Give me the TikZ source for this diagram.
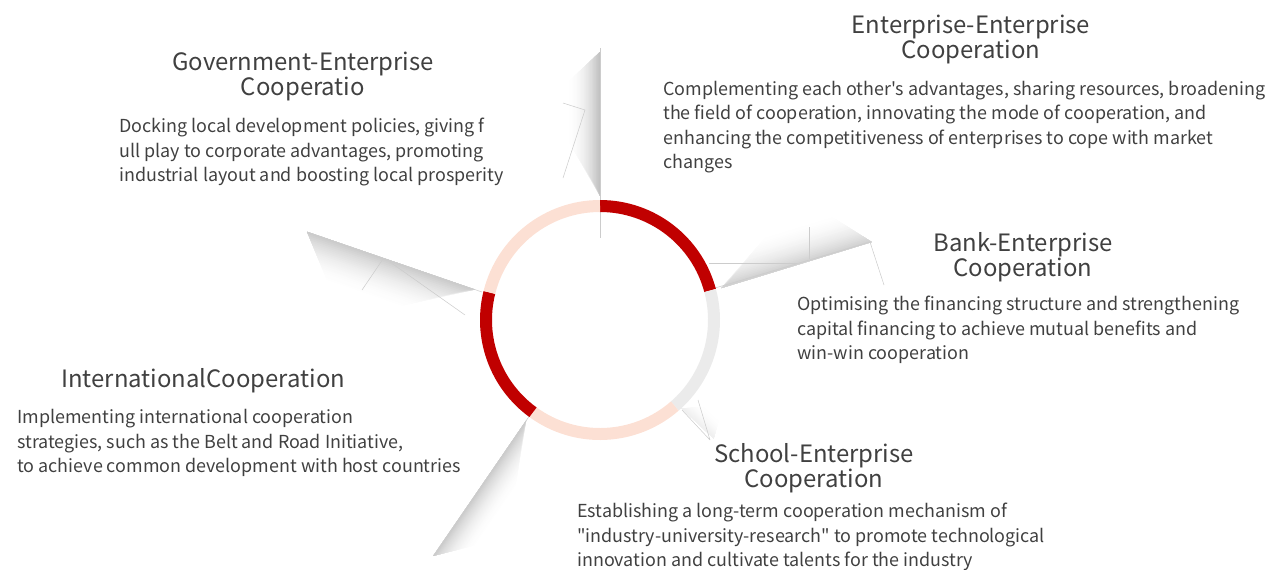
\documentclass[tikz,border=0pt]{standalone}
\usepackage{fontspec}
\setmainfont[Ligatures=TeXOff]{Noto Sans CJK SC}
\usetikzlibrary{calc}
\definecolor{ruby}{RGB}{192,0,0}
\definecolor{blush}{RGB}{252,224,212}
\definecolor{mist}{RGB}{235,235,235}
\definecolor{ink}{RGB}{64,64,64}
\tikzset{
  seg/.style={draw=#1,line width=0.24cm},
  seg/.default=ruby,
  heading/.style={text=ink,inner sep=0pt,align=center,font=\fontsize{13.6}{14.2}\selectfont},
  blurb/.style={text=ink,inner sep=0pt,align=left,anchor=west,font=\fontsize{10.2}{13.8}\selectfont},
  crease line/.style={draw=black!20,line width=0.3pt},
  % paper fold shadow, drawn along local x, falling to local -y
  pics/crease/.style n args={3}{code={
    \foreach \k [evaluate=\k as \p using {#3*(1-(\k-1)/24)^2}] in {24,23,...,1}
      \fill[black!\p] (0.04*#1,0) -- (#1,0)
        -- ({#1*(1-0.2*\k/24)},-\k*#2/24) -- ({#1*(0.06+0.35*\k/24)},-\k*#2/24) -- cycle;
  }},
}

\begin{document}
\begin{tikzpicture}[x=0.02cm,y=-0.02cm]
    \useasboundingbox (0,0) rectangle (1284,569);
    \coordinate (hub) at (600,320);
    % shadows
    \pic[rotate=90] at (600,202) {crease={150}{32}{24}};
    \pic[rotate=161] at (482,292) {crease={185}{42}{20}};
    \pic[rotate=17] at (715,290) {crease={164}{38}{18}};
    \pic[rotate=235.5] at (530,415) {crease={171}{30}{20}};
    \pic[rotate=-43] at (680,407) {crease={46}{18}{6}};
    \draw[crease line] (600,48) -- (600,238);
    \draw[crease line] (563,103) -- (585,110) -- (563,178);
    \draw[crease line] (307,232) -- (482,292);
    \draw[crease line] (383,259) -- (362,290) (390,262) -- (465,315);
    \draw[crease line] (715,288) -- (870,242) -- (884,285);
    \draw[crease line] (709,263) -- (797,263) (809,227) -- (809,259);
    \draw[crease line] (698,400) -- (710,440) (682,410) -- (710,440);
    \draw[crease line] (530,415) -- (435,555);
    % ring
    \foreach \a/\b/\c in {-90/-15/ruby,-15/49/mist,49/126/blush,126/194/ruby,194/270/blush}
      \draw[seg=\c] ($(hub)+(\a:114)$) arc[start angle=\a,end angle=\b,radius=114];
    % labels
    \node[heading] (govtitle) at (303,76.5) {Government-Enterprise\\Cooperatio};
    \node[blurb] (govtext) at (119,152) {Docking local development policies, giving f\\ull play to corporate advantages, promoting\\industrial layout and boosting local prosperity};
    \node[heading] (enttitle) at (971,39) {Enterprise-Enterprise\\Cooperation};
    \node[blurb] (enttext) at (663,127) {Complementing each other's advantages, sharing resources, broadening\\the field of cooperation, innovating the mode of cooperation, and\\enhancing the competitiveness of enterprises to cope with market\\changes};
    \node[heading] (banktitle) at (1023,257.5) {Bank-Enterprise\\Cooperation};
    \node[blurb] (banktext) at (797,330) {Optimising the financing structure and strengthening\\capital financing to achieve mutual benefits and\\win-win cooperation};
    \node[heading,anchor=west] (inttitle) at (61,381) {InternationalCooperation};
    \node[blurb] (inttext) at (17,443) {Implementing international cooperation\\strategies, such as the Belt and Road Initiative,\\to achieve common development with host countries};
    \node[heading] (schtitle) at (814,468) {School-Enterprise\\Cooperation};
    \node[blurb] (schtext) at (577,537) {Establishing a long-term cooperation mechanism of\\"industry-university-research" to promote technological\\innovation and cultivate talents for the industry};
  \end{tikzpicture}
\end{document}
